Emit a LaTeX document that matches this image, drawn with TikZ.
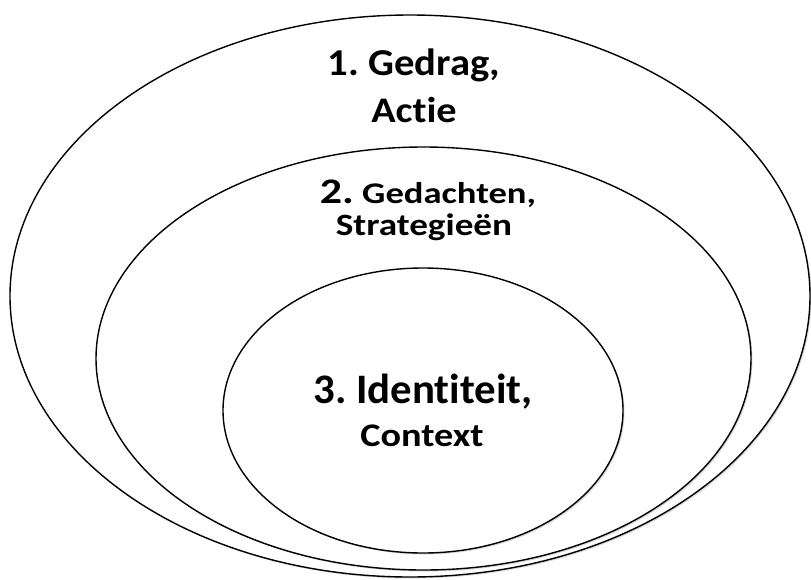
\documentclass[tikz,border=0pt]{standalone}
\usepackage{fontspec}
\setmainfont{Carlito}[Ligatures=NoCommon]
\frenchspacing
\usetikzlibrary{shapes.geometric, shadows, positioning}

\tikzset{
  layer/.style={draw, ellipse, line width=1.4pt, fill=white, inner sep=0pt,
    drop shadow={shadow xshift=1.5pt, shadow yshift=-1.5pt, opacity=.3}},
  lbl/.style 2 args={anchor=base, inner sep=0pt,
    font=\bfseries\fontsize{#1}{#1}\selectfont\addfontfeature{FakeStretch=#2}},
}

\begin{document}
\begin{tikzpicture}[x=1pt, y=-1pt]
    \useasboundingbox (0,0) rectangle (811,579);

    % ellipses, outside to inside
    \node[layer, minimum width=800pt, minimum height=562pt] (gedrag)     at (410,296)     {};
    \node[layer, minimum width=655pt, minimum height=423pt] (gedachten)  at (423.5,358.5) {};
    \node[layer, minimum width=400pt, minimum height=285pt] (identiteit) at (423,410.5)   {};

    % labels
    \node[lbl={38}{1.07}] (gedrag 1)     at (414,75)  {1. Gedrag,};
    \node[lbl={36}{1.12}] (gedrag 2)     at (414,122) {Actie};
    \node[lbl={30}{1.22}] (gedachten 1)  at (428,203) {{\fontsize{36}{36}\selectfont 2.} Gedachten,};
    \node[lbl={31}{1.2}]  (gedachten 2)  at (424,235) {Strategieën};
    \node[lbl={42}{1.02}] (identiteit 1) at (423,403) {3. Identiteit,};
    \node[lbl={33}{1.16}] (identiteit 2) at (422,446) {Context};
\end{tikzpicture}
\end{document}
